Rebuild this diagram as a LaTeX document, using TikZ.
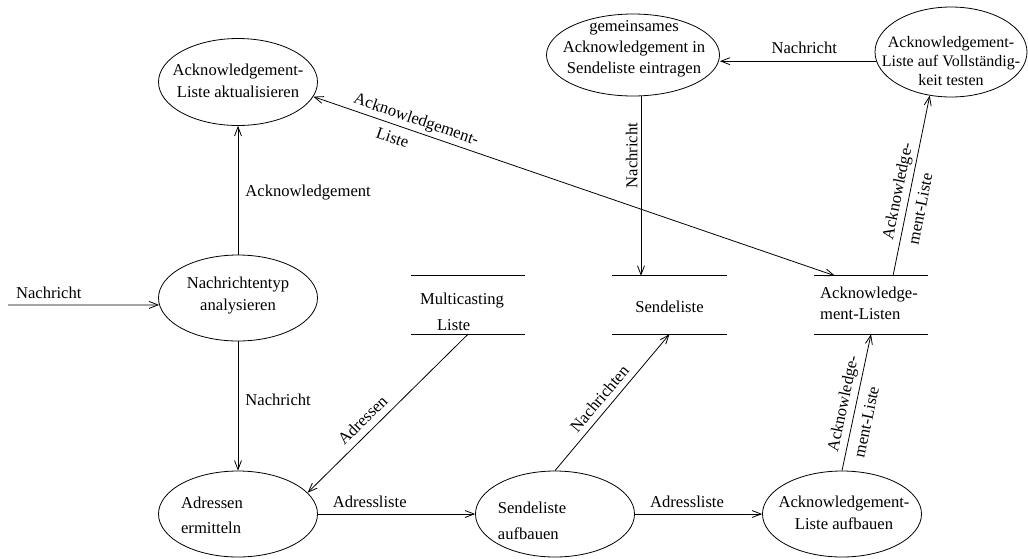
\documentclass[tikz,border=0pt]{standalone}
\usepackage{fontspec}
\setmainfont{Liberation Serif}
\usetikzlibrary{shapes.geometric,arrows.meta}
\begin{document}
\begin{tikzpicture}[x=1pt,y=-1pt,
  every node/.style={font=\fontsize{16.6}{22}\selectfont},
  proc/.style={draw, ellipse, line width=0.8pt, inner sep=0pt},
  store/.style={inner sep=0pt, minimum height=58pt},
  lab/.style={inner sep=1pt},
  tip/.tip={Straight Barb[length=9pt,width=7pt]},
  flow/.style={line width=0.8pt, -tip},
  biflow/.style={line width=0.8pt, tip-tip},
  rule/.style={line width=0.8pt},
]
\path[use as bounding box] (0,0) rectangle (1028,558);

% processes
\node[proc, minimum width=159pt, minimum height=87pt] (ack1) at (238,82) {};
\node[lab, align=center] (ack1t) at (238,81) {Acknowledgement-\\Liste aktualisieren};

\node[proc, minimum width=159pt, minimum height=86pt] (nta) at (238,298) {};
\node[lab, align=center] (ntat) at (238,296) {Nachrichtentyp\\analysieren};

\node[proc, minimum width=159pt, minimum height=86pt] (adr) at (238,514) {};
\node[lab, align=left, font=\fontsize{16.6}{25}\selectfont] (adrt) at (212,515) {Adressen\\ermitteln};

\node[proc, minimum width=159pt, minimum height=86pt] (sla) at (555,514) {};
\node[lab, align=left, font=\fontsize{16.6}{26}\selectfont] (slat) at (532,521) {Sendeliste\\aufbauen};

\node[proc, minimum width=159pt, minimum height=86pt] (alb) at (842,514) {};
\node[lab, align=center] (albt) at (844,513) {Acknowledgement-\\Liste aufbauen};

\node[proc, minimum width=173pt, minimum height=82pt] (ge6) at (633,55) {};
\node[lab, align=center, font=\fontsize{16.6}{21}\selectfont] (ge6t) at (634,49) {gemeinsames\\Acknowledgement in\\Sendeliste eintragen};

\node[proc, minimum width=152pt, minimum height=90pt] (ae7) at (951,52) {};
\node[lab, align=center, font=\fontsize{16}{19}\selectfont] (ae7t) at (951,61) {Acknowledgement-\\Liste auf Vollständig-\\keit testen};

% data stores
\node[store, minimum width=114pt] (mcl) at (468,305) {};
\draw[rule] (mcl.north west) -- (mcl.north east) (mcl.south west) -- (mcl.south east);
\node[lab, align=left, font=\fontsize{16.6}{26}\selectfont] (mclt) at (462,312) {Multicasting\\\hspace*{17pt}Liste};

\node[store, minimum width=115pt] (sdl) at (669.5,305) {};
\draw[rule] (sdl.north west) -- (sdl.north east) (sdl.south west) -- (sdl.south east);
\node[lab] (sdlt) at (669.5,307) {Sendeliste};

\node[store, minimum width=114pt] (akl) at (871,305) {};
\draw[rule] (akl.north west) -- (akl.north east) (akl.south west) -- (akl.south east);
\node[lab, align=left, font=\fontsize{16.6}{21}\selectfont] (aklt) at (869,303) {Acknowledge-\\ment-Listen};

% data flows
\coordinate (src) at (8,305);
\draw[flow] (src) -- node[lab, above=5pt, pos=0.27] (l1) {Nachricht} (nta.185);
\draw[flow] (nta.north) -- node[lab, right=6pt, pos=0.48] (l2) {Acknowledgement} (ack1.south);
\draw[flow] (nta.south) -- node[lab, right=6pt, pos=0.45] (l3) {Nachricht} (adr.north);
\draw[flow] (adr.east) -- node[lab, above=5pt, pos=0.33] (l4) {Adressliste} (sla.west);
\draw[flow] (sla.east) -- node[lab, above=5pt, pos=0.41] (l5) {Adressliste} (alb.west);
\draw[flow] (mcl.south) -- node[lab, sloped, above=6pt, pos=0.6] (l6) {Adressen} (adr.17);
\draw[flow] (sla.north) -- node[lab, sloped, above=5pt, pos=0.47] (l7) {Nachrichten} (sdl.south);
\draw[flow] (alb.north) -- node[lab, sloped, align=left, pos=0.47, font=\fontsize{16.6}{27}\selectfont] (l8) {Acknowledge-\\ment-Liste} (akl.south);
\draw[flow] ([xshift=22pt]akl.north) -- node[lab, sloped, align=left, pos=0.456, font=\fontsize{16.6}{26}\selectfont] (l9) {Acknowledge-\\ment-Liste} (ae7.244);
\draw[flow] (ae7.187) -- node[lab, above=6pt, pos=0.46] (l10) {Nachricht} (ae7.187 -| ge6.east);
\draw[flow] ([xshift=8pt]ge6.south) -- node[lab, rotate=90, anchor=south, inner ysep=3pt, pos=0.33] (l11) {Nachricht} ([xshift=8pt]ge6.south |- sdl.north);
\draw[biflow] ([xshift=-36pt]akl.north) -- node[lab, sloped, above=2pt, pos=0.81] (l12) {Acknowledgement-} node[lab, sloped, below=6pt, pos=0.84] (l13) {Liste} (ack1.349);
\end{tikzpicture}
\end{document}
